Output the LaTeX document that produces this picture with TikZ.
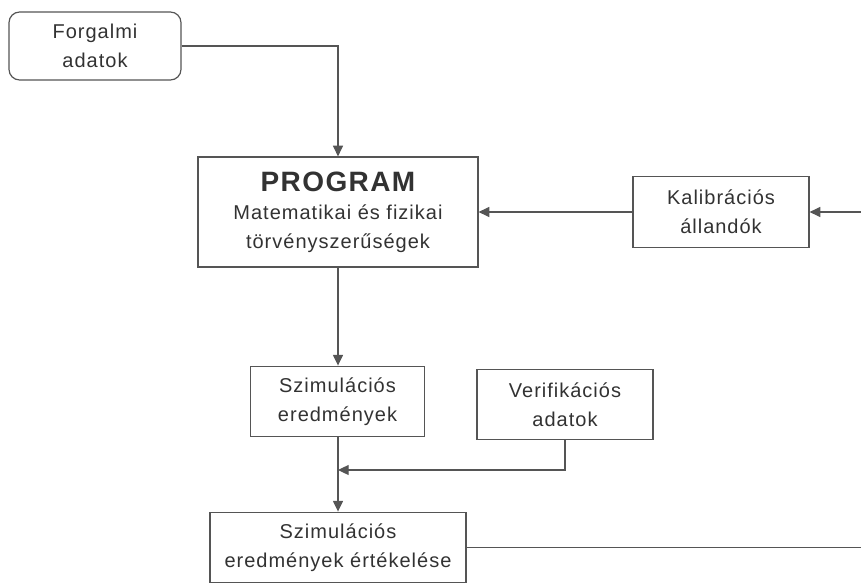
\documentclass[tikz,border=0pt]{standalone}
\usepackage{fontspec}
\setmainfont{Liberation Sans}[LetterSpace=5]
\usetikzlibrary{arrows.meta, positioning}
\definecolor{linegray}{RGB}{85,85,85}
\definecolor{textgray}{RGB}{50,50,50}

\begin{document}
\begin{tikzpicture}[
    x=0.75pt, y=-0.75pt,
    >={Triangle[length=8pt, width=7.5pt]},
    box/.style={draw=linegray, line width=0.9pt, text=textgray,
        align=center, inner sep=0pt,
        font=\fontsize{15}{21.5}\selectfont,
        minimum width=132pt, minimum height=53pt},
    flow/.style={->, draw=linegray, line width=0.9pt}
]

% ============================================================
% Page frame
% ============================================================
\useasboundingbox (0,0) rectangle (861,585);

% ============================================================
% Boxes
% ============================================================
\node[box, rounded corners=8pt, minimum width=129pt, minimum height=51pt]
    (forg) at (95,46) {Forgalmi\\adatok};

\node[box, minimum width=210pt, minimum height=82.5pt] (prog) at (338,212)
    {{\fontsize{21}{27}\selectfont\bfseries PROGRAM}\\
     Matematikai és fizikai\\törvényszerűségek};

\node[box] (kal) at (721,212) {Kalibrációs\\állandók};

\node[box, minimum width=131pt] (szim) at (337.5,401.5)
    {Szimulációs\\eredmények};

\node[box] (verif) at (565,404.5) {Verifikációs\\adatok};

\node[box, minimum width=192pt] (eval) at (338,547.5)
    {Szimulációs\\eredmények értékelése};

% ============================================================
% Connectors
% ============================================================
\coordinate (kalin)   at (861,212);
\coordinate (merge)   at (338,470);
\coordinate (evalout) at (861,547.5);

\draw[flow] (forg.east) -| (prog.north);
\draw[flow] (kal.west) -- (prog.east);
\draw[flow] (kalin) -- (kal.east);
\draw[flow] (prog.south) -- (prog.south |- szim.north);
\draw[flow] (verif.south) |- (merge);
\draw[flow] (szim.south -| prog.south) -- (eval.north);
\draw[draw=linegray, line width=0.9pt] (eval.east) -- (evalout);

\end{tikzpicture}
\end{document}
